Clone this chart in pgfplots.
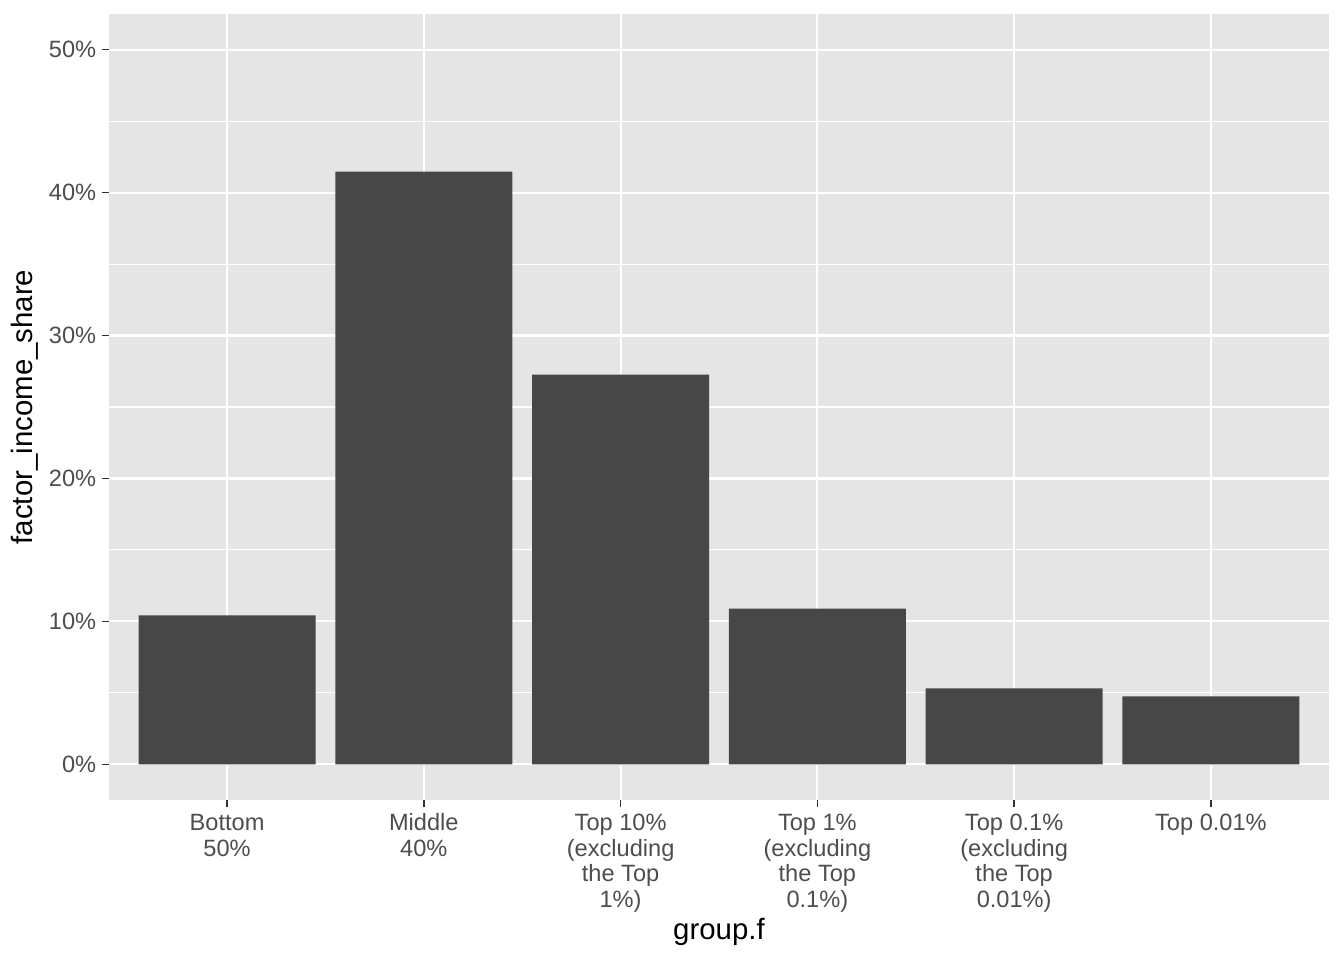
\documentclass[border=0pt]{standalone}
\usepackage{fontspec}
\setmainfont{Liberation Sans}
\usepackage{pgfplots}
\pgfplotsset{compat=1.18}
\definecolor{panelbg}{HTML}{E5E5E5}
\definecolor{barfill}{HTML}{474747}
\definecolor{ticktext}{HTML}{4D4D4D}
\definecolor{tickcol}{HTML}{333333}
\begin{document}
\begin{tikzpicture}
\path[use as bounding box] (0,0) rectangle (672pt,480pt);
\begin{axis}[
  at={(54.5pt,80pt)}, anchor=south west,
  scale only axis, width=610pt, height=393pt,
  xmin=-0.6, xmax=5.6, ymin=-2.5, ymax=52.5,
  axis background/.style={fill=panelbg},
  axis line style={draw=none},
  xtick={0,1,2,3,4,5},
  xticklabels={\strut Bottom\\50\%, \strut Middle\\40\%, \strut Top 10\%\\(excluding\\the Top\\1\%), \strut Top 1\%\\(excluding\\the Top\\0.1\%), \strut Top 0.1\%\\(excluding\\the Top\\0.01\%), \strut Top 0.01\%},
  ytick={0,10,20,30,40,50},
  yticklabels={0\%,10\%,20\%,30\%,40\%,50\%},
  minor ytick={5,15,25,35,45},
  tick pos=left,
  tick align=outside,
  major tick length=3.6pt,
  tick style={draw=tickcol, line width=0.7pt},
  minor tick length=0pt,
  grid=both,
  major grid style={draw=white, line width=1.1pt},
  minor grid style={draw=white, line width=0.55pt},
  xticklabel style={font=\fontsize{11.8}{12.85}\selectfont, text=ticktext, align=center, anchor=north, inner sep=0pt, yshift=-2.5pt},
  yticklabel style={font=\fontsize{11.8}{13}\selectfont, text=ticktext, anchor=east, inner sep=0pt, xshift=-2.6pt},
  xlabel={group.f},
  ylabel={factor\_income\_share},
  label style={font=\fontsize{14.7}{17}\selectfont},
  xlabel style={at={(axis description cs:0.5,0)}, anchor=center, yshift=-66pt},
  ylabel style={at={(axis description cs:0,0.5)}, anchor=center, yshift=42pt},
  clip=false,
]
\addplot[ybar, bar width=0.9, fill=barfill, draw=none, bar shift=0pt] coordinates {
  (0,10.42) (1,41.47) (2,27.27) (3,10.90) (4,5.31) (5,4.76)
};
\end{axis}
\end{tikzpicture}
\end{document}
